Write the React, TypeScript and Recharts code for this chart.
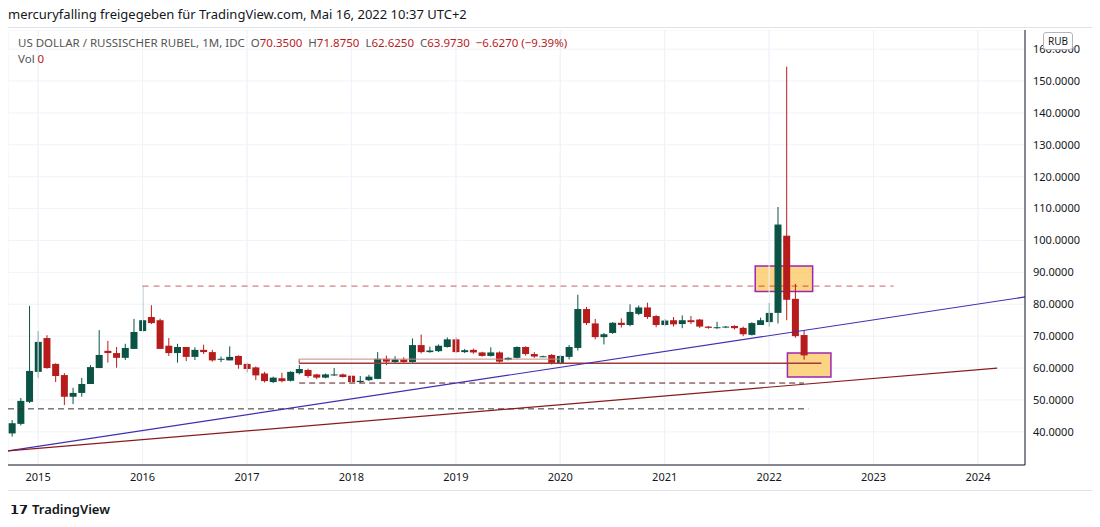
import React from "react";
import { ComposedChart, Bar, XAxis, YAxis, CartesianGrid, ReferenceLine, ReferenceArea } from "recharts";

// monthly candles, Oct 2014 .. May 2022
const opens = [39.5, 42.5, 49.4, 58.8, 69.4, 61.3, 57.8, 51, 52.2, 55, 60, 65.4, 64.7, 63.2, 66, 71.6, 76, 75, 67, 64.7, 66.6, 63.5, 65.7, 65, 62.7, 62.4, 63.8, 61.3, 60.2, 58.3, 55.6, 56.8, 56, 58.4, 59.4, 58, 57, 57.8, 58, 57.6, 55.6, 56.2, 56.6, 62.9, 61.9, 62.7, 61.9, 67.2, 65, 65.3, 66.6, 69, 65, 65.7, 64.9, 63.8, 64.9, 62.6, 63.2, 66.6, 64.4, 63.6, 64.1, 61.3, 63.5, 66.3, 78.5, 74, 69.7, 71, 74.2, 73.5, 77, 79, 76.3, 73.5, 75, 73.8, 75, 75.2, 73, 72.7, 72.8, 73.2, 72.6, 70.4, 73.5, 74.4, 77.3, 101.5, 81.7, 70.35];
const closes = [42.7, 49.7, 59.1, 68.2, 60, 57.5, 51, 52.2, 55, 60.3, 64.1, 64.7, 63.2, 66.3, 71.3, 75, 74.1, 66, 64.7, 66.6, 63.5, 65.7, 65, 62.4, 62.9, 63.5, 61, 59.7, 57.7, 55.9, 57, 55.9, 58.8, 59.7, 57.5, 57, 58, 58, 57.2, 55.6, 56, 57.3, 62.9, 62, 62.7, 61.9, 67.2, 65, 65.5, 67, 69, 65, 65.6, 64.9, 63.8, 64.9, 62, 63.2, 66.6, 64.4, 63.6, 63.7, 61.6, 63.8, 66.6, 78.5, 74.1, 69.7, 70.6, 74.2, 73.5, 77.6, 79, 76, 73.5, 74.9, 73.7, 75, 74.4, 73, 72.6, 72.8, 73, 72.5, 70.6, 74.1, 75, 77.3, 105, 81.4, 70, 63.973];
const highs = [43.7, 50.6, 79.5, 71.6, 70.3, 61.5, 58.4, 53.8, 56.9, 60.9, 71.9, 68.5, 66.6, 67.6, 75.4, 85.7, 79.7, 75.5, 69.4, 67.6, 66.6, 66.5, 67.3, 65.7, 63.6, 66.8, 64, 61.6, 60.5, 58.8, 57.3, 58.5, 59, 61, 59.8, 58.2, 58.3, 60, 58.3, 57.8, 57.5, 57.9, 65, 63.9, 63.7, 63.4, 69.3, 70.5, 66.7, 67.4, 69.6, 69.6, 66, 66.1, 65.1, 66.5, 65.2, 63.4, 66.8, 66.8, 65, 63.9, 64.4, 64.1, 67.2, 83, 79.2, 75.4, 71, 74.4, 75.6, 80, 79.6, 80.5, 76.6, 75.4, 76, 76.5, 76.3, 75.4, 73.2, 74.5, 73.2, 73.4, 73, 74.4, 75.8, 80.4, 110.5, 154.5, 86.4, 71.875];
const lows = [38.5, 42, 49, 56.9, 59.8, 55.6, 48.4, 48.7, 51, 55, 60, 61.7, 60.1, 62.5, 66, 71.3, 73.8, 66, 63.8, 61.7, 62.2, 62.5, 64.4, 62, 61.9, 62.4, 59.8, 58.7, 56.2, 55.5, 55.3, 55.5, 55.8, 58, 57, 56.5, 56.8, 57.5, 57, 55.3, 55.3, 55.9, 56.5, 60.9, 61.5, 61.7, 61.7, 64.6, 64.8, 65, 66.4, 64.8, 64.7, 64.5, 63.6, 63.6, 61.7, 62.4, 63, 63.9, 63.2, 63.4, 61.1, 61, 62.7, 65.5, 73.5, 69, 67.4, 70.7, 72.7, 73.1, 76.6, 75.4, 72.8, 73.2, 73, 72.5, 73.8, 72.6, 72.3, 72.3, 72.5, 72.1, 70, 70.2, 73.8, 73, 74, 75, 69.5, 62.625];

const yearLabels = ["2015", "2016", "2017", "2018", "2019", "2020", "2021", "2022", "2023", "2024"];
const yearTicks = yearLabels.map((_, k) => 3 + 12 * k);
const priceTicks = [40, 50, 60, 70, 80, 90, 100, 110, 120, 130, 140, 150, 160];

const GREEN = "#0b5345";
const RED = "#b71c1c";

const data = opens.map((o, i) => ({ i, o, c: closes[i], range: [lows[i], highs[i]] }));

const Candle = (props: any) => {
  const { x, y, width, height, payload } = props;
  const [l, h] = payload.range;
  const up = payload.c >= payload.o;
  const color = up ? GREEN : RED;
  const k = h > l ? height / (h - l) : 0;
  const top = y + (h - Math.max(payload.o, payload.c)) * k;
  const bh = Math.max(1, Math.abs(payload.c - payload.o) * k);
  const cx = x + width / 2;
  return (
    <g>
      <line x1={cx} x2={cx} y1={y} y2={y + height} stroke={color} strokeWidth={1} />
      <rect x={x} y={top} width={width} height={bh} fill={color} />
    </g>
  );
};

export default function App() {
  return (
    <div style={{ position: "relative", margin: -8, width: 1100, height: 527, fontFamily: "'Noto Sans', sans-serif", color: "#131722", background: "#fff", overflow: "hidden" }}>
      <div style={{ position: "absolute", left: 8, top: 5, fontSize: 13 }}>
        mercuryfalling freigegeben für TradingView.com, Mai 16, 2022 10:37 UTC+2
      </div>
      <div style={{ position: "absolute", left: 0, top: 27, width: 1100, borderTop: "1px solid #e0e3eb" }} />
      <div style={{ position: "absolute", left: 0, top: 490, width: 1100, borderTop: "1px solid #e0e3eb" }} />
      <div style={{ position: "absolute", left: 8, top: 30 }}>
        <ComposedChart width={1092} height={460} data={data} margin={{ top: 0, right: 0, left: 0, bottom: 0 }}>
          <CartesianGrid stroke="#f0f3fa" verticalPoints={[]} />
          <XAxis dataKey="i" type="number" domain={[-0.46, 116.4]} ticks={yearTicks} tickFormatter={(v: number) => yearLabels[(v - 3) / 12]} interval={0}
            tick={{ fontSize: 11, fill: "#131722" }} tickLine={false} axisLine={{ stroke: "#131722" }} height={25} allowDataOverflow />
          <YAxis orientation="right" domain={[29.6, 166]} ticks={priceTicks} tickFormatter={(v: number) => v.toFixed(4)} interval={0}
            tick={{ fontSize: 11, fill: "#131722" }} tickLine={false} axisLine={{ stroke: "#131722" }} width={75} allowDataOverflow />
          {yearTicks.map((t) => (
            <ReferenceLine key={t} x={t} stroke="#f0f3fa" />
          ))}
          <ReferenceArea x1={85.4} x2={92} y1={84} y2={92} fill="#f9c75c" fillOpacity={0.75} stroke="#9c27b0" strokeWidth={1.5} />
          <ReferenceArea x1={89.1} x2={94.1} y1={57.2} y2={64.7} fill="#f9c75c" fillOpacity={0.75} stroke="#9c27b0" strokeWidth={1.5} />
          <ReferenceLine segment={[{ x: 15, y: 85.7 }, { x: 101.3, y: 85.7 }]} stroke={RED} strokeDasharray="6 5" strokeOpacity={0.7} />
          <ReferenceLine segment={[{ x: 33, y: 55.3 }, { x: 91, y: 55.3 }]} stroke="#5d1a1a" strokeDasharray="6 4" />
          <ReferenceLine segment={[{ x: -0.46, y: 47.2 }, { x: 91.5, y: 47.2 }]} stroke="#333" strokeDasharray="6 4" />
          <ReferenceLine segment={[{ x: 33, y: 61.5 }, { x: 93, y: 61.5 }]} stroke="#a33a3a" strokeWidth={1.5} />
          <ReferenceLine segment={[{ x: 33, y: 61.5 }, { x: 33, y: 62.8 }]} stroke="#a33a3a" />
          <ReferenceLine segment={[{ x: 33, y: 62.8 }, { x: 63, y: 62.8 }]} stroke="#c98a8a" />
          <ReferenceLine segment={[{ x: -0.46, y: 34 }, { x: 116.4, y: 82.3 }]} stroke="#3f2fb0" strokeWidth={1.2} />
          <ReferenceLine segment={[{ x: -0.46, y: 34 }, { x: 113.2, y: 60 }]} stroke="#8b1a1a" strokeWidth={1.2} />
          <Bar dataKey="range" barSize={7} shape={Candle} isAnimationActive={false} />
        </ComposedChart>
      </div>
      <div style={{ position: "absolute", left: 18, top: 35, fontSize: 11.5, color: "#555" }}>
        US DOLLAR / RUSSISCHER RUBEL, 1M, IDC&nbsp;&nbsp;
        <span>O</span><span style={{ color: RED }}>70.3500</span>&nbsp;&nbsp;
        <span>H</span><span style={{ color: RED }}>71.8750</span>&nbsp;&nbsp;
        <span>L</span><span style={{ color: RED }}>62.6250</span>&nbsp;&nbsp;
        <span>C</span><span style={{ color: RED }}>63.9730</span>&nbsp;&nbsp;
        <span style={{ color: RED }}>−6.6270 (−9.39%)</span>
      </div>
      <div style={{ position: "absolute", left: 18, top: 51, fontSize: 11.5, color: "#555" }}>
        Vol <span style={{ color: RED }}>0</span>
      </div>
      <div style={{ position: "absolute", left: 1043, top: 32, fontSize: 10, border: "1px solid #b2b5be", borderRadius: 3, padding: "1px 4px", background: "#fff" }}>RUB</div>
      <div style={{ position: "absolute", left: 10, top: 500, fontSize: 13, fontWeight: 600 }}>
        <span style={{ fontWeight: 900, marginRight: 4 }}>𝟭𝟳</span>TradingView
      </div>
    </div>
  );
}
